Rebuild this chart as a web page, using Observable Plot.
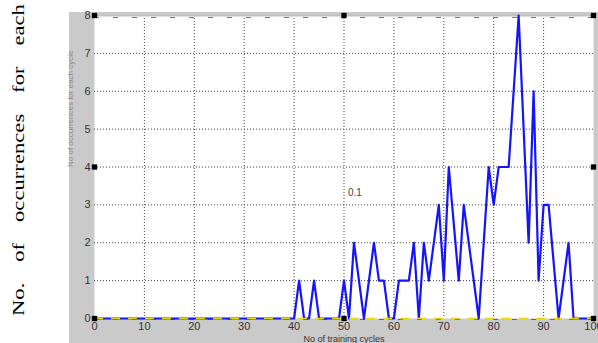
<!DOCTYPE html>
<html><head><meta charset="utf-8">
<script src="https://cdn.jsdelivr.net/npm/d3@7"></script>
<script src="https://cdn.jsdelivr.net/npm/@observablehq/plot@0.6"></script>
<style>
body{margin:0;background:#fff;width:598px;height:343px;overflow:hidden;position:relative;font-family:"Liberation Sans",sans-serif}
#bg{position:absolute;left:69px;top:12px;width:529px;height:331px;background:#cacaca}
#side{position:absolute;left:10px;top:316px;width:234px;height:17px;line-height:17px;font-size:17px;font-family:"Liberation Serif",serif;color:#000;text-align:justify;text-align-last:justify;transform-origin:0 0;transform:rotate(-90deg) scale(1.333,1)}
#chart{position:absolute;left:0;top:0}
</style></head><body>
<div id="bg"></div>
<div id="side">No. of occurrences for each</div>
<div id="chart"></div>
<script>
// data
const cycles      = [0,40,41,42,43,44,45,49,50,51,52,54,56,57,58,59,60,61,63,64,65,66,67,69,70,71,73,74,77,79,80,81,83,85,86,87,88,89,90,91,93,95,96,100];
const occurrences = [0, 0, 1, 0, 0, 1, 0, 0, 1, 0, 2, 0, 2, 1, 1, 0, 0, 1, 1, 2, 0, 2, 1, 3, 1, 4, 1, 3, 0, 4, 3, 4, 4, 8, 5, 2, 6, 1, 3, 3, 0, 2, 0, 0];
const xTicks = [0,10,20,30,40,50,60,70,80,90,100];
const yTicks = [0,1,2,3,4,5,6,7,8];
const handleX = [0,50,100,0,100,0,50,100];
const handleY = [8,8,8,4,4,0,0,0];
const noteText = ["0.1"];
const noteX = [52.2];
const noteY = [3.31];
const xLabel = "No of training cycles";
const yLabel = "No of occurrences for each cycle";

const points = cycles.map((c, i) => ({x: c, y: occurrences[i]}));
const handles = handleX.map((x, i) => ({x, y: handleY[i]}));
const notes = noteText.map((t, i) => ({x: noteX[i], y: noteY[i], t}));

const chart = Plot.plot({
  width: 598, height: 343,
  marginLeft: 94, marginRight: 5, marginTop: 15, marginBottom: 25,
  style: {background: "transparent", fontFamily: "Liberation Sans, sans-serif", fontSize: "11px", color: "#333"},
  x: {domain: [0, 100]},
  y: {domain: [0, 8]},
  marks: [
    Plot.frame({fill: "white", stroke: null}),
    Plot.ruleX(xTicks.slice(1, -1), {stroke: "#444", strokeDasharray: "1,2"}),
    Plot.ruleY(yTicks.slice(1, -1), {stroke: "#444", strokeDasharray: "1,2"}),
    Plot.ruleY([8], {stroke: "#c0c0c0", strokeWidth: 2}),
    Plot.ruleY([8], {stroke: "#777", strokeDasharray: "5,14", dy: 2}),
    Plot.ruleY([0], {stroke: "#666", strokeDasharray: "5,14", dy: 1}),
    Plot.axisX({ticks: xTicks, tickSize: 0, tickPadding: 4, label: null}),
    Plot.axisY({ticks: yTicks, tickSize: 0, tickPadding: 4, label: null}),
    Plot.line(points, {x: "x", y: "y", stroke: "#1414ff", strokeWidth: 2.2}),
    Plot.ruleY([0], {stroke: "#e6d800", strokeWidth: 1.5, strokeDasharray: "9,8"}),
    Plot.dot(handles, {x: "x", y: "y", symbol: "square", r: 3, fill: "black"}),
    Plot.text(notes, {x: "x", y: "y", text: "t", fontSize: 10, fill: "#444"}),
    Plot.text([xLabel], {text: d => d, frameAnchor: "bottom", dy: 23, fontSize: 9, fill: "#333"}),
    Plot.text([yLabel], {text: d => d, frameAnchor: "left", dx: -24, rotate: -90, fontSize: 8, fill: "#888"})
  ]
});
document.getElementById("chart").appendChild(chart);
</script>
</body></html>
